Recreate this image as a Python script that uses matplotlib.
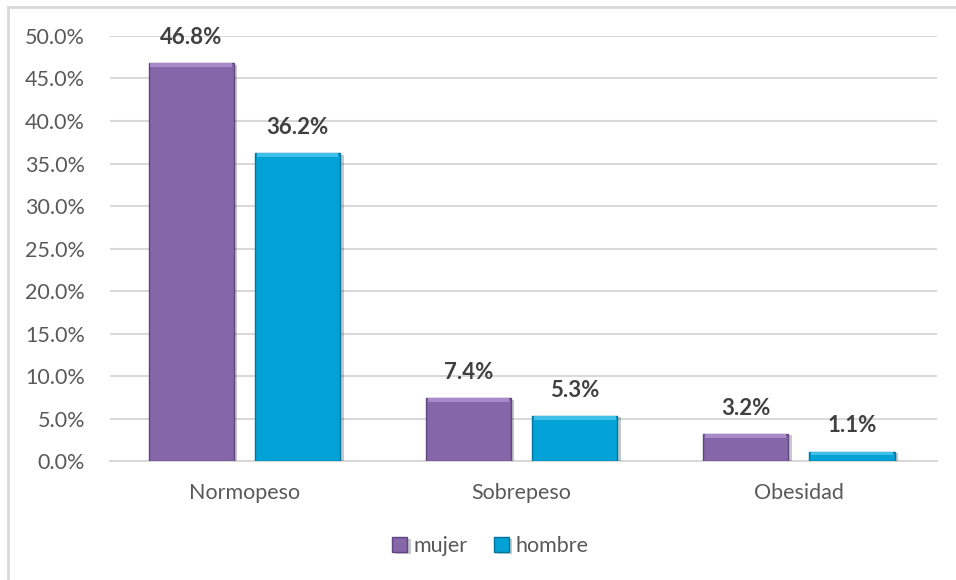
#!/usr/bin/env python3
"""
Estado nutricional por sexo: barras agrupadas con porcentajes
"""
import numpy as np
import matplotlib
matplotlib.use("Agg")
from matplotlib import pyplot as plt
from matplotlib import patheffects
from matplotlib.lines import Line2D
from matplotlib.ticker import FuncFormatter

categorias = ["Normopeso", "Sobrepeso", "Obesidad"]
series = ["mujer", "hombre"]
mujer = [46.8, 7.4, 3.2]
hombre = [36.2, 5.3, 1.1]
yticks = [0, 5, 10, 15, 20, 25, 30, 35, 40, 45, 50]

colores = ["#8566A8", "#02A2D6"]
bordes = ["#5E4780", "#03759C"]
brillo = ["#A88AC9", "#40C0E8"]

plt.rcParams['font.family'] = ['Lato', 'DejaVu Sans']

fig = plt.figure(figsize=(9.56, 5.80), dpi=100)
ax = fig.add_axes([0.115, 0.205, 0.865, 0.733])

x = np.arange(len(categorias))
ancho = 0.307
desp = 0.192
sombra = [patheffects.SimplePatchShadow(offset=(2.5, -1), alpha=0.25),
          patheffects.Normal()]

for i, (vals, nombre) in enumerate(zip([mujer, hombre], series)):
    pos = x + (-desp if i == 0 else desp)
    barras = ax.bar(pos, vals, width=ancho, color=colores[i],
                    edgecolor=bordes[i], linewidth=1.0, label=nombre,
                    zorder=3)
    for b in barras:
        b.set_path_effects(sombra)
    # franja clara en el borde superior
    tope = [min(0.45, v * 0.35) for v in vals]
    ax.bar(pos, tope, width=ancho * 0.96, bottom=np.array(vals) - np.array(tope),
           color=brillo[i], linewidth=0, zorder=4)
    for px, v in zip(pos, vals):
        ax.annotate(f"{v:.1f}%", (px, v), xytext=(0, 11),
                    textcoords="offset points", ha="center", va="bottom",
                    fontsize=16, fontweight="bold", color="#404040")

ax.set_xlim(-0.485, 2.498)
ax.set_ylim(0, 50)
ax.set_yticks(yticks)
ax.yaxis.set_major_formatter(FuncFormatter(lambda v, _: f"{v:.1f}%"))
ax.set_xticks(x)
ax.set_xticklabels(categorias)
ax.tick_params(axis="both", length=0, labelsize=15.5, colors="#595959")
ax.tick_params(axis="x", pad=16)
ax.tick_params(axis="y", pad=18)
for lbl in ax.get_yticklabels():
    lbl.set_horizontalalignment("right")
ax.grid(axis="y", color="#D9D9D9", linewidth=1.5, zorder=0)
for s in ["top", "right", "left"]:
    ax.spines[s].set_visible(False)
ax.spines["bottom"].set_color("#D9D9D9")
ax.spines["bottom"].set_linewidth(1.5)
ax.set_axisbelow(True)

ax.legend(loc="center", bbox_to_anchor=(0.513, 0.058),
          bbox_transform=fig.transFigure, ncol=2, frameon=False,
          fontsize=15.5, labelcolor="#595959", handlelength=0.7,
          handleheight=0.7, handletextpad=0.3, columnspacing=1.2)

# marco del gráfico
fig.add_artist(Line2D([0.0084, 0.0084], [0.0, 0.988], color="#D9D9D9",
                      linewidth=2, transform=fig.transFigure))
fig.add_artist(Line2D([0.0084, 1.0], [0.988, 0.988], color="#D9D9D9",
                      linewidth=2, transform=fig.transFigure))

fig.savefig("out.png", dpi=100, facecolor="white")
